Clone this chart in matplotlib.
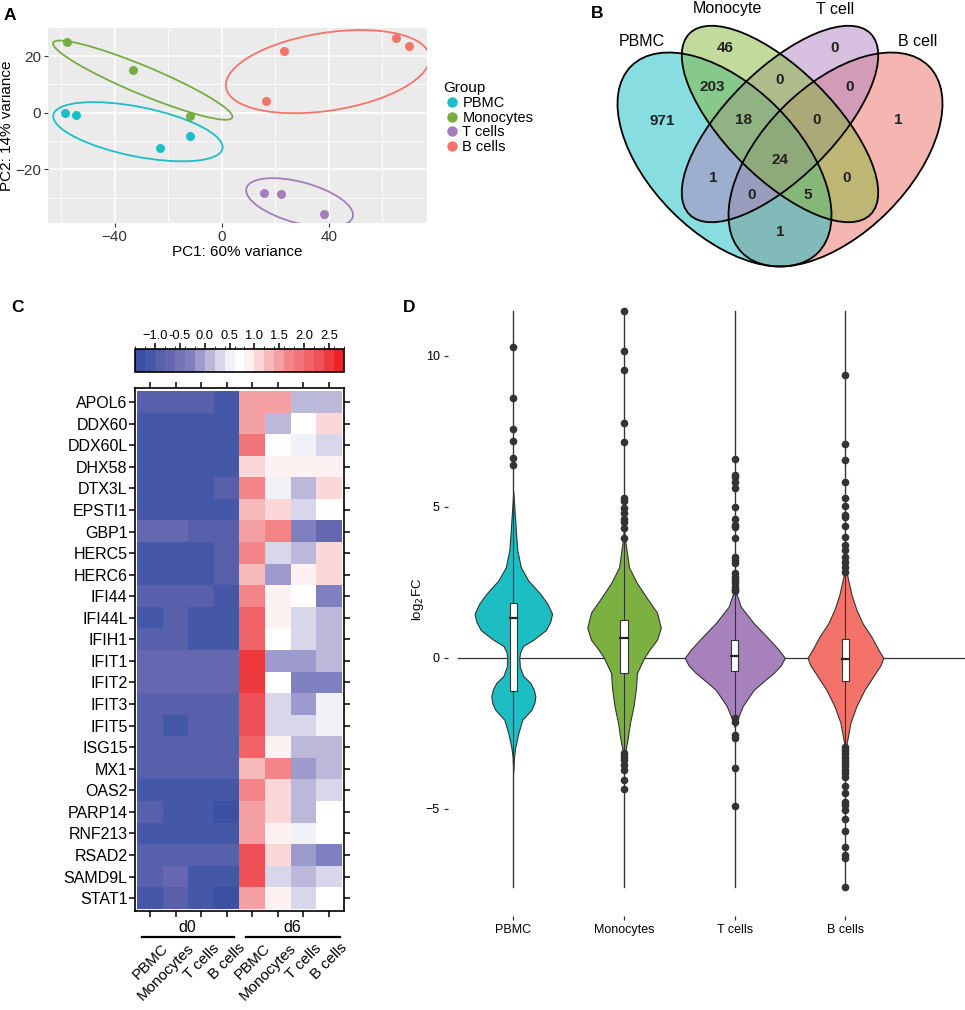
import numpy as np
import matplotlib
matplotlib.use("Agg")
from matplotlib import pyplot as plt
from matplotlib.patches import Ellipse, Rectangle
from matplotlib.lines import Line2D
from matplotlib.colors import ListedColormap, BoundaryNorm

plt.rcParams['font.family'] = ['Liberation Sans', 'DejaVu Sans']

W, H = 965, 1010


def box(l, t, r, b):
    # figure pixel box -> axes rect
    return [l / W, 1 - b / H, (r - l) / W, (b - t) / H]


# ---------------- data ----------------
groups = ['PBMC', 'Monocytes', 'T cells', 'B cells']
group_colors = ['#1BBFC5', '#77AC43', '#A47DBA', '#F4736B']

# A: PCA scores
pc1_values = [[-58.6, -54.5, -23.1, -11.9],
              [-57.7, -33.3, -11.7],
              [15.9, 22.2, 38.4],
              [16.4, 23.4, 65.2, 69.8]]
pc2_values = [[-0.2, -0.8, -12.6, -8.2],
              [24.8, 15.1, -1.2],
              [-28.2, -28.8, -35.8],
              [4.0, 21.9, 26.5, 23.5]]
# group ellipses: centre, full axes, angle
ell_cx = [-31.3, -29.5, 29.1, 39.6]
ell_cy = [-6.7, 11.5, -31.7, 14.5]
ell_w = [64.3, 71.9, 41.0, 76.8]
ell_h = [17.5, 10.0, 14.5, 27.5]
ell_ang = [-10.6, -21.5, -14.1, 8.2]

# B: Venn counts
venn_sets = ['PBMC', 'Monocyte', 'T cell', 'B cell']
venn_counts = [971, 46, 0, 1, 203, 0, 0, 18, 0, 24, 1, 0, 5, 0, 1]
venn_xy = [(662, 121), (725, 48), (835, 48), (898, 120), (712, 87),
           (780, 80), (850, 87), (743, 120), (817, 120), (780, 160),
           (713, 178), (752, 195), (808, 195), (847, 178), (780, 232)]

# C: heatmap
genes = ['APOL6', 'DDX60', 'DDX60L', 'DHX58', 'DTX3L', 'EPSTI1', 'GBP1',
         'HERC5', 'HERC6', 'IFI44', 'IFI44L', 'IFIH1', 'IFIT1', 'IFIT2',
         'IFIT3', 'IFIT5', 'ISG15', 'MX1', 'OAS2', 'PARP14', 'RNF213',
         'RSAD2', 'SAMD9L', 'STAT1']
heat_cols = ['PBMC', 'Monocytes', 'T cells', 'B cells'] * 2
heat = np.array([
    [-0.9, -0.9, -0.9, -1.1, 1.5, 1.5, 0.1, 0.1],
    [-1.1, -1.1, -1.1, -1.1, 1.5, 0.1, 0.7, 1.1],
    [-1.1, -1.1, -1.1, -1.1, 1.9, 0.7, 0.5, 0.3],
    [-1.1, -1.1, -1.1, -1.1, 1.1, 0.9, 0.9, 0.9],
    [-1.1, -1.1, -1.1, -0.9, 1.7, 0.5, 0.1, 1.1],
    [-1.1, -1.1, -1.1, -1.1, 1.3, 1.1, 0.3, 0.7],
    [-0.7, -0.7, -0.9, -0.9, 1.5, 1.7, -0.3, -0.7],
    [-1.1, -1.1, -1.1, -0.9, 1.7, 0.3, 0.1, 1.1],
    [-1.1, -1.1, -1.1, -0.9, 1.3, -0.1, 0.9, 1.1],
    [-0.9, -0.9, -0.9, -1.1, 1.7, 0.9, 0.7, -0.3],
    [-1.1, -0.9, -1.1, -1.1, 2.1, 0.9, 0.3, 0.1],
    [-0.9, -0.9, -1.1, -1.1, 2.1, 0.7, 0.3, 0.1],
    [-0.7, -0.7, -0.7, -0.7, 2.5, -0.1, -0.1, 0.1],
    [-0.7, -0.7, -0.7, -0.7, 2.5, 0.7, -0.3, -0.3],
    [-0.9, -0.9, -0.9, -0.9, 2.3, 0.3, -0.1, 0.5],
    [-0.9, -1.1, -0.9, -0.9, 2.3, 0.3, 0.3, 0.5],
    [-0.9, -0.9, -0.9, -0.9, 2.1, 0.9, 0.1, 0.1],
    [-0.9, -0.9, -0.9, -0.9, 1.3, 1.7, -0.1, 0.1],
    [-1.1, -1.1, -1.1, -1.1, 1.7, 1.1, 0.1, 0.3],
    [-0.9, -1.1, -1.1, -1.3, 1.5, 1.1, 0.1, 0.7],
    [-1.1, -1.1, -1.1, -1.1, 1.5, 0.9, 0.5, 0.7],
    [-0.9, -0.9, -0.9, -0.9, 2.3, 1.1, -0.1, -0.3],
    [-0.9, -0.7, -1.1, -1.1, 2.3, 0.3, 0.1, 0.3],
    [-1.1, -0.9, -1.1, -1.3, 1.5, 0.9, 0.3, 0.7],
])
heat_edges = np.round(np.arange(-1.4, 2.81, 0.2), 2)
heat_palette = ['#3B50A2', '#4558A8', '#5860AC', '#6568B0', '#7475B8',
                '#807FBF', '#9D9ACE', '#BCB8DA', '#D8D6EB', '#F1F1F8',
                '#FFFFFF', '#FEF1F1', '#FBD7D7', '#F8B9BA', '#F5A1A4',
                '#F38589', '#F1767A', '#F06468', '#EF5055', '#EE3A3F',
                '#ED2227']

# D: violins (profile = value, half width in category units)
vio_y = [
    [5.5, 5.0, 4.0, 3.57, 3.0, 2.56, 2.12, 1.8, 1.46, 1.2, 0.92, 0.6, 0.4,
     0.2, 0.0, -0.3, -0.6, -0.83, -1.05, -1.28, -1.5, -1.72, -2.05, -2.5,
     -2.95, -3.3, -3.8],
    [4.3, 3.8, 3.0, 2.5, 2.0, 1.5, 1.0, 0.6, 0.3, 0.0, -0.5, -1.0, -1.6,
     -2.15, -2.7, -3.1, -3.5],
    [2.4, 2.2, 1.7, 1.15, 0.6, 0.27, 0.0, -0.25, -0.5, -0.8, -1.06, -1.35,
     -1.6, -2.0, -2.3],
    [3.0, 2.7, 2.1, 1.6, 1.15, 0.7, 0.27, 0.0, -0.25, -0.5, -1.06, -1.6,
     -2.15, -2.7, -3.0],
]
vio_w = [
    [0, .009, .027, .036, .068, .136, .244, .307, .350, .334, .294, .181,
     .090, .063, .054, .059, .090, .154, .185, .199, .190, .163, .081, .045,
     .018, .006, 0],
    [0, .014, .045, .113, .203, .298, .332, .298, .235, .181, .117, .108,
     .086, .054, .032, .011, 0],
    [0, .009, .054, .172, .316, .397, .452, .416, .352, .253, .172, .117,
     .072, .027, 0],
    [0, .018, .054, .099, .154, .235, .298, .343, .316, .271, .172, .099,
     .045, .018, 0],
]
box_q1 = [-1.09, -0.49, -0.43, -0.76]
box_med = [1.32, 0.67, 0.07, -0.03]
box_q3 = [1.83, 1.26, 0.60, 0.62]
tail_lo = [-7.6, -7.6, -7.6, -7.6]
tail_hi = [11.5, 11.5, 11.5, 11.5]
outliers = [
    [10.31, 8.62, 7.57, 7.18, 6.61, 6.39],
    [11.50, 10.17, 9.53, 7.77, 7.15, 5.29, 5.21, 4.96, 4.79, 4.59, 4.51,
     4.29, 3.96, -3.16, -3.27, -3.38, -3.54, -3.71, -4.04, -4.35],
    [6.58, 6.06, 5.98, 5.84, 5.64, 4.99, 4.59, 4.40, 4.33, 3.96, 3.35, 3.25,
     3.14, 2.80, 2.69, 2.58, 2.47, 2.36, 2.25, 2.20, -2.0, -2.11, -2.55,
     -2.66, -3.65, -4.89],
    [9.37, 7.07, 6.56, 5.82, 5.31, 5.03, 4.74, 4.66, 4.38, 4.02, 3.74, 3.58,
     3.35, 3.19, 3.02, 2.86, -2.94, -3.05, -3.15, -3.27, -3.38, -3.48, -3.58,
     -3.70, -3.81, -3.93, -4.26, -4.48, -4.76, -4.87, -5.03, -5.33, -5.75,
     -6.25, -6.52, -6.63, -7.59],
]
vio_colors = ['#1CBEC4', '#7CB142', '#A781BB', '#F3736B']

fig = plt.figure(figsize=(W / 100, H / 100), dpi=100)

# ---------------- A: PCA ----------------
axa = fig.add_axes(box(48, 28, 427, 223))
axa.set_facecolor('#EBEBEB')
for s in axa.spines.values():
    s.set_visible(False)
axa.set_xlim(-64.9, 76.7)
axa.set_ylim(-38.9, 29.9)
axa.set_xticks([-40, 0, 40])
axa.set_yticks([-20, 0, 20])
axa.set_xticks([-60, -20, 20, 60], minor=True)
axa.set_yticks([-30, -10, 10], minor=True)
axa.grid(which='major', color='white', lw=1.1)
axa.grid(which='minor', color='white', lw=0.55)
axa.tick_params(which='minor', length=0)
axa.tick_params(which='major', length=3, color='#333333', labelsize=11,
                labelcolor='#333333', pad=2)
axa.set_axisbelow(True)
handles = []
for i, g in enumerate(groups):
    axa.add_patch(Ellipse((ell_cx[i], ell_cy[i]), ell_w[i], ell_h[i],
                          angle=ell_ang[i], fill=False,
                          edgecolor=group_colors[i], lw=1.3))
    axa.scatter(pc1_values[i], pc2_values[i], s=42, color=group_colors[i],
                zorder=3, linewidths=0)
    handles.append(Line2D([], [], ls='', marker='o', ms=6.5,
                          color=group_colors[i]))
axa.set_xlabel('PC1: 60% variance', fontsize=11, labelpad=1)
axa.set_ylabel('PC2: 14% variance', fontsize=11, labelpad=1)
leg = axa.legend(handles, groups, title='Group', loc='upper left',
                 bbox_to_anchor=(436 / W, 1 - 74 / H),
                 bbox_transform=fig.transFigure, frameon=False,
                 fontsize=10.5, title_fontsize=11, labelspacing=0.05,
                 handletextpad=0.1, handlelength=1.2, borderpad=0,
                 alignment='left')

# ---------------- B: Venn ----------------
axb = fig.add_axes(box(575, 0, 965, 280))
axb.set_xlim(575, 965)
axb.set_ylim(280, 0)
axb.axis('off')
venn_cx = [724.5, 780, 780, 835.5]
venn_cy = [159.5, 124, 124, 159.5]
venn_w = [264, 256, 256, 264]
venn_h = [148, 108, 108, 148]
venn_ang = [45, 45, -45, -45]
venn_fill = ['#11BDC1', '#87B739', '#B183C1', '#ED6F65']
for i in [3, 0, 2, 1]:
    axb.add_patch(Ellipse((venn_cx[i], venn_cy[i]), venn_w[i], venn_h[i],
                          angle=venn_ang[i], facecolor=venn_fill[i],
                          alpha=0.5, edgecolor='none'))
for i in range(4):
    axb.add_patch(Ellipse((venn_cx[i], venn_cy[i]), venn_w[i], venn_h[i],
                          angle=venn_ang[i], fill=False,
                          edgecolor='black', lw=1.3))
for n, (x, y) in zip(venn_counts, venn_xy):
    axb.text(x, y, str(n), ha='center', va='center', fontsize=11,
             fontweight='bold', color='#222222')
venn_lab_xy = [(642, 42), (727, 9), (835, 9), (918, 42)]
for lab, (x, y) in zip(venn_sets, venn_lab_xy):
    axb.text(x, y, lab, ha='center', va='center', fontsize=11.5)

# ---------------- C: heatmap ----------------
cmap = ListedColormap(heat_palette)
norm = BoundaryNorm(heat_edges, cmap.N)
axc = fig.add_axes(box(135, 388, 344, 911))
im = axc.imshow(heat, cmap=cmap, norm=norm, aspect='auto',
                interpolation='nearest')
axc.set_xlim(-0.59, 7.59)
axc.set_ylim(23.6, -0.66)
axc.set_xticks(range(len(heat_cols)))
axc.set_xticklabels([])
axc.set_yticks(range(len(genes)))
axc.set_yticklabels(genes, fontsize=11.5)
axc.tick_params(direction='out', length=4.3, width=1.1, top=True,
                right=True, pad=1)
for s in axc.spines.values():
    s.set_linewidth(1.2)
for i, lab in enumerate(heat_cols):
    axc.annotate(lab, xy=(i, 0), xycoords=axc.get_xaxis_transform(),
                 xytext=(11, -30), textcoords='offset pixels', rotation=45,
                 ha='right', va='top', rotation_mode='anchor', fontsize=11)
for x0, x1, xt, lab in [(-0.3, 3.3, 1.45, 'd0'), (3.75, 7.45, 5.55, 'd6')]:
    axc.plot([x0, x1], [-0.049, -0.049], transform=axc.get_xaxis_transform(),
             clip_on=False, color='black', lw=1.6)
    axc.text(xt, -0.032, lab, transform=axc.get_xaxis_transform(),
             ha='center', va='center', fontsize=11.5)

cax = fig.add_axes(box(135, 349, 344, 372))
cb = fig.colorbar(im, cax=cax, orientation='horizontal',
                  ticks=[-1.0, -0.5, 0.0, 0.5, 1.0, 1.5, 2.0, 2.5])
cax.xaxis.set_ticks_position('top')
cb.set_ticklabels(['\u22121.0', '-0.5', '0.0', '0.5', '1.0', '1.5', '2.0',
                   '2.5'])
cax.tick_params(length=4.3, width=1.1, labelsize=9.3, pad=1)
cb.outline.set_linewidth(1.2)

# ---------------- D: violins ----------------
axd = fig.add_axes(box(448, 282, 965, 916))
for s in axd.spines.values():
    s.set_visible(False)
axd.set_xlim(0.41, 5.08)
axd.set_ylim(-8.55, 12.45)
axd.axhline(0, xmin=10 / 517, color='#333333', lw=0.9, zorder=1)
for i in range(4):
    x = i + 1
    axd.plot([x, x], [tail_lo[i], tail_hi[i]], color='#333333', lw=0.9,
             zorder=2)
    yv = np.array(vio_y[i])
    wv = np.array(vio_w[i])
    axd.fill_betweenx(yv, x - wv, x + wv, facecolor=vio_colors[i],
                      edgecolor='#333333', lw=0.8, zorder=3)
    axd.plot([x, x], [tail_lo[i], tail_hi[i]], color='#333333', lw=0.8,
             zorder=3.5)
    axd.add_patch(Rectangle((x - 0.033, box_q1[i]), 0.066,
                            box_q3[i] - box_q1[i], facecolor='white',
                            edgecolor='#333333', lw=0.8, zorder=4))
    axd.plot([x - 0.033, x + 0.033], [box_med[i], box_med[i]],
             color='#222222', lw=1.6, zorder=5)
    axd.plot([x] * len(outliers[i]), outliers[i], ls='', marker='o',
             ms=4.5, color='#333333', zorder=6)
axd.set_xticks([1, 2, 3, 4])
axd.set_xticklabels(groups)
axd.set_yticks([-5, 0, 5, 10])
axd.tick_params(length=3, width=0.9, color='#333333', labelsize=9, pad=3)
axd.set_ylabel('log$_2$FC', fontsize=9.5, labelpad=0)

# panel letters
for lab, x, y in [('A', 10, 15), ('B', 597, 14), ('C', 18, 308),
                  ('D', 409, 308)]:
    fig.text(x / W, 1 - y / H, lab, fontsize=12.5, fontweight='bold',
             ha='center', va='center')

fig.savefig('out.png', dpi=100)
